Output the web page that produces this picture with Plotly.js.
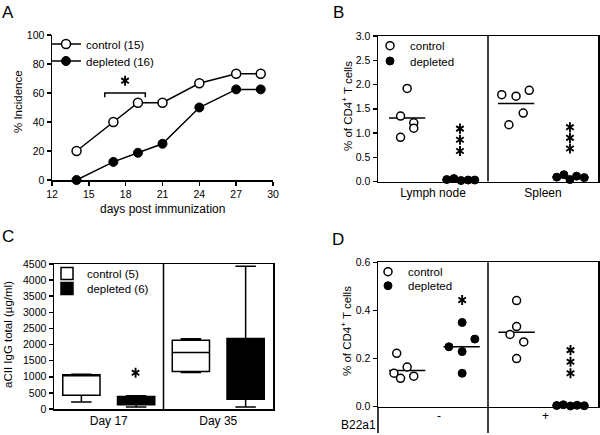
<!DOCTYPE html>
<html>
<head>
<meta charset="utf-8">
<script src="https://cdn.plot.ly/plotly-3.0.1.min.js"></script>
<style>html,body{margin:0;padding:0;background:#fff;}#chart{width:600px;height:435px;}</style>
</head>
<body>
<div id="chart"></div>
<script>
// ---------- Panel A data ----------
const A_days = [14, 17, 19, 21, 24, 27, 29];
const A_control = [20, 40, 53.3, 53.3, 66.7, 73.3, 73.3];
const A_depleted = [0, 12.5, 18.75, 25, 50, 62.5, 62.5];
const A_names = ['control (15)', 'depleted (16)'];
const A_bracketX = [16.3, 19.6];
const A_bracketY = 60;
const A_starX = [17.95];
const A_starY = [68.5];

// ---------- Panel B data ----------
const B_categories = ['Lymph node', 'Spleen'];
const B_categoryPos = [1, 3];
const B_controlX = [0.53, 0.41, 0.65, 0.65, 0.41, 2.25, 2.51, 2.75, 2.64, 2.38];
const B_control = [1.92, 1.35, 1.21, 1.10, 0.91, 1.79, 1.76, 1.88, 1.41, 1.17];
const B_depletedX = [1.25, 1.38, 1.51, 1.64, 1.76, 3.25, 3.38, 3.49, 3.61, 3.75];
const B_depleted = [0.04, 0.06, 0.02, 0.03, 0.03, 0.09, 0.14, 0.04, 0.11, 0.08];
const B_medianX = [0.53, 1.5, 2.51, 3.5];
const B_medians = [1.31, 0.03, 1.61, 0.09];
const B_starX = [1.49, 1.49, 1.49, 3.49, 3.49, 3.49];
const B_starY = [1.09, 0.86, 0.63, 1.12, 0.90, 0.68];

// ---------- Panel C data ----------
const C_categories = ['Day 17', 'Day 35'];
const C_categoryPos = [1, 3];
const C_names = ['control (5)', 'depleted (6)'];
const C_controlX = [0.5, 2.5];
const C_controlMin = [220, 1130];
const C_controlQ1 = [430, 1160];
const C_controlMed = [1030, 1750];
const C_controlQ3 = [1060, 2130];
const C_controlMax = [1075, 2180];
const C_depletedX = [1.5, 3.5];
const C_depletedMin = [65, 60];
const C_depletedQ1 = [130, 300];
const C_depletedMed = [250, 1000];
const C_depletedQ3 = [390, 2190];
const C_depletedMax = [410, 4430];
const C_starX = [1.49];
const C_starY = [1127];

// ---------- Panel D data ----------
const D_groups = ['-', '+'];
const D_groupPos = [1.1, 3.05];
const D_rowLabel = 'B22a1';
const D_controlX = [0.34, 0.53, 0.29, 0.41, 0.65, 2.52, 2.52, 2.40, 2.65, 2.52];
const D_control = [0.222, 0.165, 0.139, 0.118, 0.127, 0.441, 0.333, 0.300, 0.269, 0.200];
const D_depletedX = [1.53, 1.29, 1.76, 1.53, 1.53, 3.25, 3.37, 3.50, 3.62, 3.75];
const D_depleted = [0.350, 0.249, 0.281, 0.229, 0.139, 0.005, 0.008, 0.003, 0.006, 0.004];
const D_medianX = [0.53, 1.52, 2.52, 3.5];
const D_medians = [0.150, 0.249, 0.309, 0.005];
const D_starX = [1.53, 3.5, 3.5, 3.5];
const D_starY = [0.443, 0.235, 0.187, 0.139];

const MEDIAN_HALF = 0.33;
const FONT = 'Liberation Sans, Arial, Helvetica, sans-serif';
const W = 600, H = 435;
const px = v => v / W;
const py = v => (H - v) / H;

const openMarker = {symbol: 'circle', color: 'white', size: 8, line: {color: 'black', width: 1.5}};
const fillMarker = {symbol: 'circle', color: 'black', size: 8, line: {color: 'black', width: 1}};

function medianTraces(xs, ys, xa, ya) {
  return xs.map((c, i) => ({
    type: 'scatter', mode: 'lines', x: [c - MEDIAN_HALF, c + MEDIAN_HALF], y: [ys[i], ys[i]],
    line: {color: 'black', width: 1.5}, showlegend: false, hoverinfo: 'skip', xaxis: xa, yaxis: ya
  }));
}
// significance asterisks drawn as six-armed star markers (two overlapping Y symbols)
function starTraces(xs, ys, xa, ya) {
  return ['y-up-open', 'y-down-open'].map(sym => ({
    type: 'scatter', mode: 'markers', x: xs, y: ys, showlegend: false, hoverinfo: 'skip', cliponaxis: false,
    marker: {symbol: sym, size: 6.3, color: 'black', line: {color: 'black', width: 1.9}}, xaxis: xa, yaxis: ya
  }));
}

const traces = [];
// A
traces.push({type: 'scatter', mode: 'lines+markers', x: A_days, y: A_control, name: A_names[0],
  line: {color: 'black', width: 1.5}, marker: Object.assign({}, openMarker, {size: 9}), cliponaxis: false,
  xaxis: 'x', yaxis: 'y', legend: 'legend'});
traces.push({type: 'scatter', mode: 'lines+markers', x: A_days, y: A_depleted, name: A_names[1],
  line: {color: 'black', width: 1.5}, marker: Object.assign({}, fillMarker, {size: 9}), cliponaxis: false,
  xaxis: 'x', yaxis: 'y', legend: 'legend2'});
starTraces(A_starX, A_starY, 'x', 'y').forEach(t => traces.push(t));
// B
medianTraces(B_medianX, B_medians, 'x2', 'y2').forEach(t => traces.push(t));
traces.push({type: 'scatter', mode: 'markers', x: B_controlX, y: B_control, name: 'control',
  marker: openMarker, cliponaxis: false, xaxis: 'x2', yaxis: 'y2', legend: 'legend3'});
traces.push({type: 'scatter', mode: 'markers', x: B_depletedX, y: B_depleted, name: 'depleted',
  marker: fillMarker, cliponaxis: false, xaxis: 'x2', yaxis: 'y2', legend: 'legend4'});
starTraces(B_starX, B_starY, 'x2', 'y2').forEach(t => traces.push(t));
// C
traces.push({type: 'box', x: C_controlX, q1: C_controlQ1, median: C_controlMed, q3: C_controlQ3,
  lowerfence: C_controlMin, upperfence: C_controlMax, name: C_names[0], width: 0.68, whiskerwidth: 0.55,
  fillcolor: 'white', line: {color: 'black', width: 1.5}, boxpoints: false,
  xaxis: 'x3', yaxis: 'y3', legend: 'legend5'});
traces.push({type: 'box', x: C_depletedX, q1: C_depletedQ1, median: C_depletedMed, q3: C_depletedQ3,
  lowerfence: C_depletedMin, upperfence: C_depletedMax, name: C_names[1], width: 0.68, whiskerwidth: 0.55,
  fillcolor: 'black', line: {color: 'black', width: 1.5}, boxpoints: false,
  xaxis: 'x3', yaxis: 'y3', legend: 'legend6'});
starTraces(C_starX, C_starY, 'x3', 'y3').forEach(t => traces.push(t));
// D
medianTraces(D_medianX, D_medians, 'x4', 'y4').forEach(t => traces.push(t));
traces.push({type: 'scatter', mode: 'markers', x: D_controlX, y: D_control, name: 'control',
  marker: openMarker, cliponaxis: false, xaxis: 'x4', yaxis: 'y4', legend: 'legend7'});
traces.push({type: 'scatter', mode: 'markers', x: D_depletedX, y: D_depleted, name: 'depleted',
  marker: fillMarker, cliponaxis: false, xaxis: 'x4', yaxis: 'y4', legend: 'legend8'});
starTraces(D_starX, D_starY, 'x4', 'y4').forEach(t => traces.push(t));

const tickFont = {family: FONT, size: 10.5, color: 'black'};
const baseAxis = {showgrid: false, zeroline: false, showline: true, linecolor: 'black', linewidth: 1.5,
  ticks: 'outside', ticklen: 4, tickwidth: 1.5, tickcolor: 'black', tickfont: tickFont, fixedrange: true};
const catAxis = Object.assign({}, baseAxis, {ticks: '', range: [0, 4], mirror: true,
  tickfont: {family: FONT, size: 12, color: 'black'}});

const legendBase = {bgcolor: 'rgba(0,0,0,0)', borderwidth: 0, xanchor: 'left', yanchor: 'middle',
  font: {family: FONT, size: 11.5, color: 'black'}, tracegroupgap: 0, itemclick: false};
const legendAt = (x, y) => Object.assign({}, legendBase, {x: px(x), y: py(y)});

const annotations = [];
function note(text, x, y, size, extra) {
  annotations.push(Object.assign({text: text, x: x, y: y, xref: 'paper', yref: 'paper', showarrow: false,
    xanchor: 'center', yanchor: 'middle', font: {family: FONT, size: size, color: 'black'}}, extra || {}));
}
// Panel letters
note('A', px(8), py(12.5), 17);
note('B', px(338.5), py(12.5), 17);
note('C', px(8), py(236), 17);
note('D', px(338), py(239), 17);
// Axis titles
note('% Incidence', px(18), py(102), 11.5, {textangle: -90});
note('days post immunization', px(162.5), py(209), 12);
note('% of CD4<sup>+</sup> T cells', px(347), py(106), 11.5, {textangle: -90});
note('aCII IgG total (µg/ml)', px(8), py(335), 11.5, {textangle: -90});
note('% of CD4<sup>+</sup> T cells', px(346), py(331), 11.5, {textangle: -90});
// D row labels
note(D_rowLabel, px(358), py(424.5), 12);
D_groups.forEach((g, i) => annotations.push({text: g, x: D_groupPos[i], xref: 'x4', y: py(424.5), yref: 'paper',
  showarrow: false, font: {family: FONT, size: 12, color: 'black'}}));

const shapes = [
  // bracket in A
  {type: 'path', xref: 'x', yref: 'y',
   path: `M ${A_bracketX[0]} ${A_bracketY - 3} L ${A_bracketX[0]} ${A_bracketY} L ${A_bracketX[1]} ${A_bracketY} L ${A_bracketX[1]} ${A_bracketY - 3}`,
   line: {color: 'black', width: 1.5}},
  // dividers
  {type: 'line', xref: 'x2', yref: 'y2 domain', x0: 2, x1: 2, y0: 0, y1: 1, line: {color: 'black', width: 1.5}},
  {type: 'line', xref: 'x3', yref: 'y3 domain', x0: 2, x1: 2, y0: 0, y1: 1, line: {color: 'black', width: 1.5}},
  {type: 'line', xref: 'x4', yref: 'paper', x0: 2, x1: 2, y0: py(433), y1: py(262.3), line: {color: 'black', width: 1.5}},
  {type: 'line', xref: 'paper', yref: 'paper', x0: px(378), x1: px(378), y0: py(433), y1: py(406.7), line: {color: 'black', width: 1.5}}
];

const layout = {
  width: W, height: H, margin: {l: 0, r: 0, t: 0, b: 0}, paper_bgcolor: 'white', plot_bgcolor: 'rgba(0,0,0,0)',
  font: {family: FONT, color: 'black'}, showlegend: true,
  xaxis: Object.assign({}, baseAxis, {domain: [px(52), px(273)], anchor: 'y', range: [12, 30], tick0: 12, dtick: 3}),
  yaxis: Object.assign({}, baseAxis, {domain: [py(180), py(35)], anchor: 'x', range: [0, 100], dtick: 20}),
  xaxis2: Object.assign({}, catAxis, {domain: [px(378), px(598)], anchor: 'y2', tickvals: B_categoryPos, ticktext: B_categories}),
  yaxis2: Object.assign({}, baseAxis, {domain: [py(181.5), py(36)], anchor: 'x2', range: [0, 3], dtick: 0.5, tickformat: '.1f', mirror: true}),
  xaxis3: Object.assign({}, catAxis, {domain: [px(54), px(273)], anchor: 'y3', tickvals: C_categoryPos, ticktext: C_categories}),
  yaxis3: Object.assign({}, baseAxis, {domain: [py(409), py(264)], anchor: 'x3', range: [0, 4500], dtick: 500, mirror: true}),
  xaxis4: Object.assign({}, catAxis, {domain: [px(378), px(598)], anchor: 'y4', showticklabels: false}),
  yaxis4: Object.assign({}, baseAxis, {domain: [py(406.7), py(262.3)], anchor: 'x4', range: [0, 0.6], dtick: 0.2, tickformat: '.1f', mirror: true}),
  legend: legendAt(46, 44),
  legend2: legendAt(46, 61),
  legend3: legendAt(370, 45.7),
  legend4: legendAt(370, 61),
  legend5: legendAt(47, 273.5),
  legend6: legendAt(47, 288.5),
  legend7: legendAt(368, 271.7),
  legend8: legendAt(368, 285.7),
  boxmode: 'overlay',
  annotations: annotations,
  shapes: shapes
};

Plotly.newPlot('chart', traces, layout, {displayModeBar: false, staticPlot: true});
</script>
</body>
</html>
